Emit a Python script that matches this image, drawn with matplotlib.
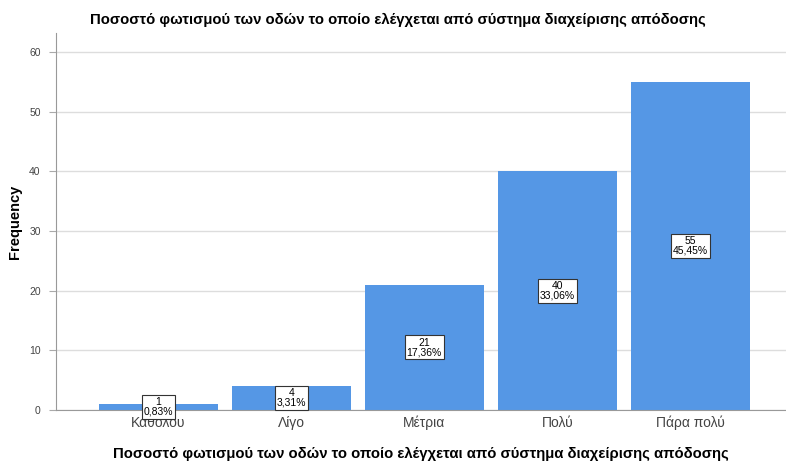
import matplotlib.pyplot as plt

plt.rcParams['font.family'] = ['Liberation Sans', 'DejaVu Sans']

categories = ['Καθολου', 'Λίγο', 'Μέτρια', 'Πολύ', 'Πάρα πολύ']
counts = [1, 4, 21, 40, 55]
percents = ['0,83%', '3,31%', '17,36%', '33,06%', '45,45%']
title = 'Ποσοστό φωτισμού των οδών το οποίο ελέγχεται από σύστημα διαχείρισης απόδοσης'

fig = plt.figure(figsize=(7.86, 4.63), dpi=100)
ax = fig.add_axes([56 / 786, 53 / 463, 730 / 786, 377 / 463])

x = range(len(categories))
ax.bar(x, counts, width=0.895, color='#5597e5', zorder=2)

for i, (c, p) in enumerate(zip(counts, percents)):
    ax.text(i, c / 2, f'{c}\n{p}', ha='center', va='center', fontsize=7.5,
            linespacing=0.95, zorder=3,
            bbox=dict(boxstyle='square,pad=0.2', fc='white', ec='#333333', lw=0.8))

ax.set_xlim(-0.77, 4.72)
ax.set_ylim(0, 63.2)
ax.set_yticks(range(0, 61, 10))
ax.set_xticks(list(x))
ax.set_xticklabels(categories, fontsize=10, color='#444444')
ax.tick_params(axis='y', labelsize=7.5, colors='#444444', length=5, color='#aaaaaa', pad=6)
ax.tick_params(axis='x', length=0, pad=4)
ax.yaxis.grid(True, color='#dddddd', lw=1, zorder=0)

for s in ['top', 'right']:
    ax.spines[s].set_visible(False)
for s in ['left', 'bottom']:
    ax.spines[s].set_color('#999999')

ax.set_ylabel('Frequency', fontsize=10.5, fontweight='bold', labelpad=5)
ax.set_xlabel(title, fontsize=10.7, fontweight='bold', labelpad=12)
fig.text(398 / 786, 1 - 20 / 463, title, ha='center', va='center',
         fontsize=10.7, fontweight='bold')

fig.savefig('out.png', dpi=100)
